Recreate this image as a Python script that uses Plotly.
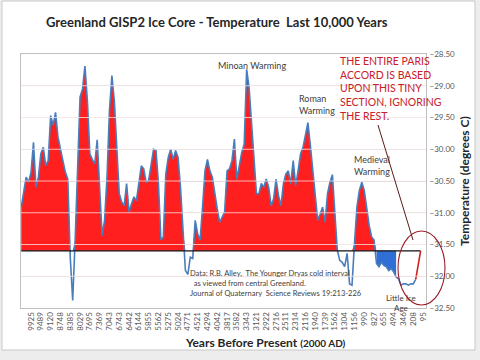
import plotly.graph_objects as go
import numpy as np

# ---------------- data ----------------
year_labels = ["9925", "9489", "9120", "8748", "8385", "8029", "7695", "7369", "7043", "6743",
               "6442", "6144", "5855", "5562", "5275", "5024", "4771", "4521", "4294", "4042",
               "3817", "3582", "3343", "3121", "2922", "2716", "2511", "2314", "2116", "1940",
               "1739", "1562", "1304", "1156", "990", "827", "655", "494", "346", "208", "95"]

temps = [-30.91, -30.65, -30.44, -30.52, -30.36, -29.89, -30.60, -30.44, -30.07, -29.97,
         -30.26, -30.18, -29.47, -29.62, -29.42, -29.81, -29.97, -30.18, -30.36, -30.47,
         -31.70, -32.38, -31.43, -30.28, -29.18, -29.05, -28.69, -29.24, -30.07, -30.16,
         -30.23, -29.85, -30.70, -31.36, -31.12, -30.44, -29.39, -28.84, -29.24, -30.02,
         -30.70, -30.83, -30.89, -30.54, -30.99, -30.86, -30.75, -30.81, -30.57, -30.26,
         -30.31, -30.52, -30.49, -30.23, -30.00, -30.02, -30.54, -31.43, -31.38, -30.39,
         -30.13, -30.00, -30.16, -30.02, -30.13, -30.60, -31.28, -31.91, -31.97, -31.70,
         -31.72, -31.12, -31.33, -31.43, -30.91, -30.34, -30.16, -30.34, -30.44, -30.73,
         -30.94, -31.15, -31.07, -30.99, -30.34, -30.31, -30.18, -29.84, -30.47, -30.28,
         -30.05, -29.92, -28.74, -29.03, -29.60, -30.18, -30.70, -30.70, -30.54, -30.60,
         -30.47, -30.60, -30.89, -30.78, -30.47, -30.73, -30.89, -30.54, -30.39, -30.34,
         -30.54, -30.18, -30.57, -30.34, -30.07, -29.97, -29.76, -29.58, -29.94, -30.34,
         -30.65, -31.12, -31.02, -30.91, -31.15, -30.70, -30.52, -30.40, -31.00, -31.59,
         -31.75, -31.78, -31.85, -31.64, -32.12, -32.14, -31.49, -30.91, -30.65, -30.52,
         -30.65, -30.94, -31.20, -31.38, -31.43, -31.80, -31.85, -31.78, -31.83, -31.85,
         -31.91, -31.88, -31.93, -32.01, -32.04, -32.14, -32.12, -32.12, -32.14, -32.12,
         -32.12, -32.05, -31.82, -31.60]

baseline_temp = -31.6
lia_start, lia_end = 145, 153      # Little Ice Age section shaded blue
modern_start = 161                  # last rise drawn in red
label_step = 4
label_offset = 4
y_ticks = [-32.5, -32.0, -31.5, -31.0, -30.5, -30.0, -29.5, -29.0, -28.5]

# ---------------- geometry helpers ----------------
W, H = 480, 360
PL, PR, PT, PB = 21, 426, 54, 308


def px(x):
    return (x - PL) / (PR - PL)


def py(y):
    return (PB - y) / (PB - PT)


n = len(temps)
xs = np.arange(n)
t = np.array(temps)
base = np.full(n, baseline_temp)
above = np.maximum(t, baseline_temp)

RED = "#FF1F1F"
LINE = "#4A7EBB"

fig = go.Figure()
# red area above baseline
fig.add_trace(go.Scatter(x=xs, y=base, mode="lines", line=dict(width=0),
                         hoverinfo="skip", showlegend=False))
fig.add_trace(go.Scatter(x=xs, y=above, mode="lines", line=dict(width=0),
                         fill="tonexty", fillcolor=RED, hoverinfo="skip", showlegend=False))
# blue area (Little Ice Age)
seg = xs[lia_start:lia_end + 1]
seg_t = np.minimum(t[lia_start:lia_end + 1], baseline_temp)
fig.add_trace(go.Scatter(x=np.concatenate([seg, seg[::-1]]),
                         y=np.concatenate([seg_t, base[lia_start:lia_end + 1][::-1]]),
                         mode="lines", line=dict(width=0), fill="toself",
                         fillcolor="#2F6FD6", hoverinfo="skip", showlegend=False))
# temperature line
fig.add_trace(go.Scatter(x=xs[:modern_start + 1], y=t[:modern_start + 1], mode="lines",
                         line=dict(color=LINE, width=1.6), showlegend=False))
# black baseline
fig.add_trace(go.Scatter(x=xs, y=base, mode="lines",
                         line=dict(color="#111111", width=1.3), showlegend=False))
# red modern rise
fig.add_trace(go.Scatter(x=xs[modern_start:], y=t[modern_start:], mode="lines",
                         line=dict(color="#D42020", width=1.6), showlegend=False))

shapes = []
# light gridlines drawn over the fills
for v in y_ticks[1:-1]:
    shapes.append(dict(type="line", xref="paper", yref="y", x0=0, x1=1, y0=v, y1=v,
                       line=dict(color="rgba(255,235,235,0.75)", width=1), layer="above"))
# slide frame
shapes.append(dict(type="rect", xref="paper", yref="paper", x0=px(2), x1=px(475),
                   y0=py(350), y1=py(1), line=dict(color="#C8C8C8", width=1),
                   fillcolor="white", layer="below"))
# ellipse
shapes.append(dict(type="circle", xref="paper", yref="paper", x0=px(398), x1=px(445),
                   y0=py(305), y1=py(231), line=dict(color="#9A1F2A", width=1.1)))
# pointer line
shapes.append(dict(type="line", xref="paper", yref="paper", x0=px(378), y0=py(125),
                   x1=px(413), y1=py(240), line=dict(color="#5A1A1A", width=1)))

FONT = "Lato"
DARK = "#404040"
annotations = [
    dict(text="Greenland GISP2 Ice Core - Temperature  Last 10,000 Years",
         x=px(217), y=py(22), font=dict(size=13, color="#262626", family=FONT, weight="bold")),
    dict(text="Minoan Warming", x=px(252), y=py(65), font=dict(size=9, color=DARK, family=FONT)),
    dict(text="Roman<br>Warming", x=px(297), y=py(104), xanchor="left", align="left",
         font=dict(size=9, color=DARK, family=FONT)),
    dict(text="Medieval<br>Warming", x=px(352), y=py(165), xanchor="left", align="left",
         font=dict(size=9, color=DARK, family=FONT)),
    dict(text="Little Ice<br>Age", x=px(401), y=py(303), align="center",
         font=dict(size=8, color=DARK, family=FONT)),
    dict(text="Data: R.B. Alley,  The Younger Dryas cold interval<br>"
              "  as viewed from central Greenland.<br>"
              "Journal of Quaternary  Science Reviews 19:213-226",
         x=px(188), y=py(283), xanchor="left", align="left",
         font=dict(size=7.5, color=DARK, family=FONT)),
    dict(text="THE ENTIRE PARIS<br>ACCORD IS BASED<br>UPON THIS TINY<br>SECTION, IGNORING<br>THE REST.",
         x=px(338), y=py(53), xanchor="left", yanchor="top", align="left",
         font=dict(size=10.5, color="#C8202A", family=FONT)),
    dict(text="Temperature (degrees C)", x=px(464), y=py(181), textangle=-90,
         font=dict(size=12, color="#262626", family=FONT, weight="bold")),
    dict(text="Years Before Present <span style='font-size:10px'>(2000 AD)</span>",
         x=px(265), y=py(342), font=dict(size=12, color="#262626", family=FONT, weight="bold")),
]
for a in annotations:
    a.setdefault("xref", "paper")
    a.setdefault("yref", "paper")
    a.setdefault("showarrow", False)
    a.setdefault("xanchor", "center")
    a.setdefault("yanchor", "middle")

fig.update_layout(
    width=W, height=H,
    margin=dict(l=PL, r=W - PR, t=PT, b=H - PB),
    paper_bgcolor="#EDEDED", plot_bgcolor="white",
    showlegend=False,
    shapes=shapes, annotations=annotations,
    xaxis=dict(range=[-0.1, 165.2], tickmode="array",
               tickvals=[label_offset + label_step * i for i in range(len(year_labels))],
               ticktext=year_labels, tickangle=-90, showgrid=False, zeroline=False,
               tickfont=dict(size=8, color="#595959", family=FONT),
               showline=True, linecolor="#BFBFBF", mirror=True, ticks=""),
    yaxis=dict(range=[-32.5, -28.5], side="right", tickvals=y_ticks, tickformat=".2f",
               gridcolor="#D9D9D9", zeroline=False, ticklabelstandoff=1,
               tickfont=dict(size=8, color="#595959", family=FONT),
               showline=True, linecolor="#BFBFBF", mirror=True, ticks=""),
)

fig.write_html("out.html", config={"displayModeBar": False},
               post_script="document.body.style.margin='0';document.body.style.overflow='hidden';")
